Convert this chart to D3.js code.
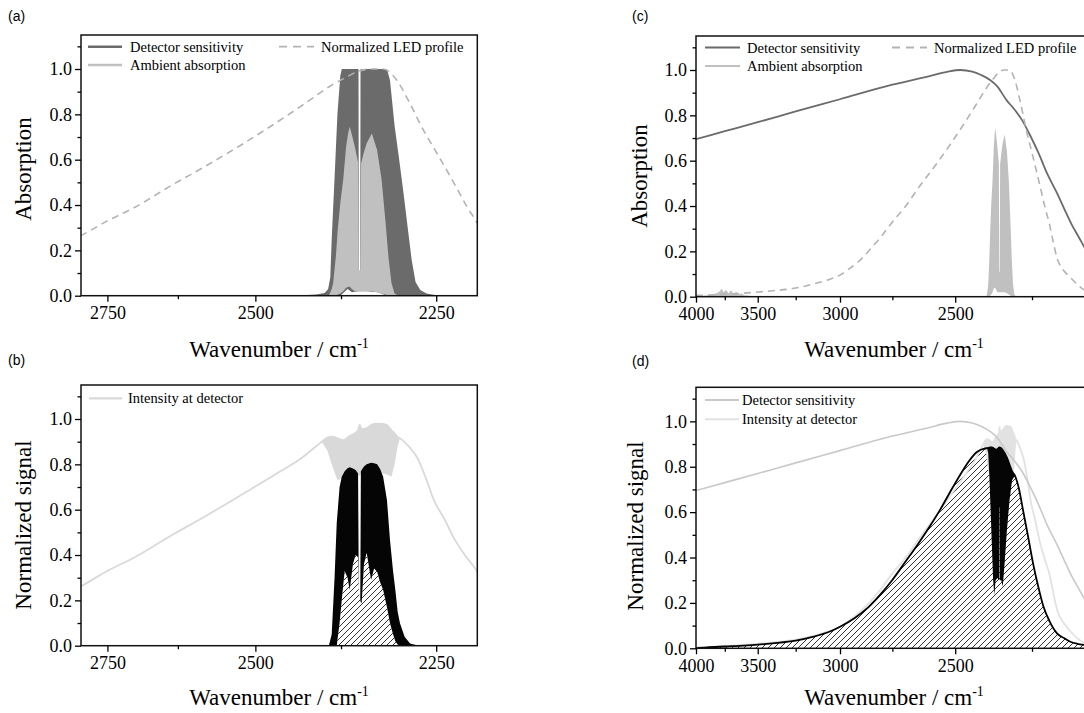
<!DOCTYPE html>
<html>
<head>
<meta charset="utf-8">
<script src="https://cdn.jsdelivr.net/npm/d3@7"></script>
<style>
  body { margin: 0; background: white; }
  text { font-family: "Liberation Serif", "Times New Roman", serif; }
  text.panel-label { font-family: "Liberation Sans", Arial, sans-serif; font-size: 14px; }
</style>
</head>
<body>
<svg id="chart" width="1084" height="713"></svg>
<script>
// values: [wavenumber, value] or [wavenumber, lower, upper]

const ledProfile = [
  [4000, 0.005], [3850, 0.008], [3700, 0.012], [3550, 0.018], [3400, 0.026], [3250, 0.038],
  [3150, 0.055], [3050, 0.078], [3000, 0.095], [2950, 0.125], [2900, 0.16], [2850, 0.21],
  [2800, 0.265], [2750, 0.33], [2700, 0.39], [2635, 0.488], [2580, 0.57], [2522, 0.665],
  [2470, 0.76], [2430, 0.84], [2402, 0.9], [2390, 0.925], [2370, 0.96], [2351, 0.99],
  [2335, 1.0], [2318, 1.0], [2300, 0.95], [2285, 0.86], [2266, 0.73], [2251, 0.64],
  [2237, 0.554], [2224, 0.47], [2212, 0.39], [2200, 0.32], [2190, 0.245], [2179, 0.17],
  [2165, 0.125], [2143, 0.085], [2125, 0.055], [2107, 0.03], [2090, 0.02]
];

const detectorSensitivity = [
  [4000, 0.695], [3750, 0.73], [3500, 0.77], [3250, 0.817], [3000, 0.871], [2750, 0.935],
  [2600, 0.972], [2530, 0.992], [2482, 1.0], [2440, 0.993], [2410, 0.978], [2380, 0.956],
  [2358, 0.93], [2326, 0.865], [2306, 0.832], [2280, 0.78], [2255, 0.71], [2230, 0.63],
  [2207, 0.545], [2180, 0.46], [2160, 0.39], [2140, 0.32], [2120, 0.26], [2107, 0.22],
  [2090, 0.17]
];

// absorption in the CO2 band (dark band of panel a)
const cellAbsorption = [
  [2430, 0, 0.002], [2410, 0, 0.005], [2398, 0, 0.012], [2393, 0, 0.03], [2390, 0, 0.08],
  [2388, 0, 0.25], [2384, 0, 0.52], [2380, 0, 0.8], [2376, 0, 0.97], [2374, 0.005, 1.0],
  [2366, 0.03, 1.0], [2360, 0.015, 1.0], [2351, 0.02, 1.0], [2350.5, 0.02, 0.11],
  [2348.7, 0.02, 0.11], [2348.3, 0.02, 1.0], [2340, 0.02, 1.0], [2325, 0.015, 1.0],
  [2313, 0, 1.0], [2309, 0, 0.95], [2303, 0, 0.75], [2297, 0, 0.6], [2291.5, 0, 0.455],
  [2286, 0, 0.3], [2281, 0, 0.16], [2276, 0, 0.06], [2270, 0, 0.025], [2262, 0, 0.01],
  [2250, 0, 0.002]
];

const ambientAbsorption = [
  [2392, 0, 0], [2388, 0, 0.03], [2386, 0, 0.055], [2382, 0, 0.18], [2379.6, 0.005, 0.29],
  [2376, 0.01, 0.41], [2372, 0.02, 0.51], [2368, 0.035, 0.657], [2365, 0.04, 0.72],
  [2363, 0.04, 0.745], [2360, 0.03, 0.71], [2356, 0.02, 0.657], [2351.4, 0.02, 0.584],
  [2350.5, 0.02, 0.11], [2348.7, 0.02, 0.11], [2347.5, 0.02, 0.584], [2344, 0.02, 0.63],
  [2340, 0.02, 0.672], [2333, 0.02, 0.716], [2326, 0.015, 0.643], [2320, 0.01, 0.51],
  [2315, 0.005, 0.33], [2311, 0, 0.17], [2307, 0, 0.055], [2303, 0, 0.01], [2298, 0, 0]
];

const ambientWater = [
  [4000, 0, 0.012], [3970, 0, 0.006], [3930, 0, 0.004], [3880, 0, 0.008], [3840, 0, 0.012],
  [3800, 0, 0.02], [3775, 0, 0.035], [3760, 0, 0.02], [3740, 0, 0.03], [3720, 0, 0.015],
  [3700, 0, 0.028], [3680, 0, 0.012], [3660, 0, 0.022], [3640, 0, 0.01], [3620, 0, 0.015],
  [3600, 0, 0.006], [3560, 0, 0.004], [3500, 0, 0]
];

// intensity at detector outside the band, and inside the band as [lower, upper]
const intensityAtDetector = [
  [4000, 0.005], [3700, 0.012], [3400, 0.026], [3250, 0.038], [3100, 0.065], [3000, 0.095],
  [2900, 0.16], [2800, 0.262], [2750, 0.33], [2700, 0.39], [2635, 0.488], [2580, 0.57],
  [2522, 0.665], [2470, 0.755], [2430, 0.83], [2296, 0.915], [2285, 0.88], [2274, 0.83],
  [2263, 0.74], [2253, 0.643], [2240, 0.56], [2229, 0.48], [2215, 0.4], [2200, 0.326],
  [2190, 0.25], [2179, 0.17], [2160, 0.11], [2143, 0.075], [2125, 0.045], [2107, 0.025],
  [2090, 0.015]
];

const intensityBand = [
  [2402, 0.9, 0.9], [2394, 0.86, 0.918], [2388, 0.8, 0.922], [2380, 0.73, 0.915],
  [2372, 0.74, 0.907], [2363, 0.76, 0.925], [2356, 0.76, 0.937], [2351, 0.75, 0.955],
  [2349.4, 0.75, 0.975], [2347, 0.76, 0.955], [2340, 0.77, 0.96], [2333, 0.77, 0.975],
  [2326, 0.77, 0.98], [2318, 0.76, 0.978], [2313, 0.755, 0.973], [2307, 0.745, 0.95],
  [2303, 0.8, 0.937], [2299, 0.88, 0.92], [2296, 0.915, 0.915]
];

// detected signal in the band (black, panel b)
const signalBandB = [
  [2392, 0, 0], [2388, 0, 0.05], [2384, 0, 0.3], [2381, 0, 0.54], [2377, 0.1, 0.7],
  [2374, 0.2, 0.745], [2370, 0.33, 0.77], [2366, 0.3, 0.783], [2363, 0.246, 0.787],
  [2358.6, 0.36, 0.782], [2355, 0.4, 0.775], [2351.6, 0.39, 0.76], [2350.6, 0.24, 0.24],
  [2348.6, 0.2, 0.2], [2347.8, 0.19, 0.77], [2346.7, 0.19, 0.775], [2343.6, 0.36, 0.79],
  [2340, 0.41, 0.8], [2334, 0.29, 0.807], [2330, 0.34, 0.805], [2326, 0.326, 0.8],
  [2322, 0.28, 0.78], [2318, 0.246, 0.745], [2313, 0.17, 0.643], [2309, 0.099, 0.466],
  [2305, 0.05, 0.33], [2302, 0.02, 0.246], [2299, 0.005, 0.15], [2296, 0, 0.099],
  [2290, 0, 0.04], [2283, 0, 0.01], [2272, 0, 0]
];

// detected signal over the whole range (hatched, panel d)
const detectedSignal = [
  [4000, 0], [3900, 0.004], [3750, 0.008], [3600, 0.012], [3500, 0.016], [3400, 0.022],
  [3250, 0.034], [3150, 0.05], [3050, 0.075], [3000, 0.095], [2923, 0.135], [2860, 0.18],
  [2805, 0.235], [2751, 0.3], [2695, 0.38], [2642, 0.46], [2594, 0.54], [2556, 0.61],
  [2518, 0.69], [2482, 0.765], [2454, 0.82], [2424, 0.865], [2399, 0.88], [2390, 0.882],
  [2375, 0.885], [2360, 0.875], [2349, 0.885], [2340, 0.875], [2326, 0.84], [2318, 0.81],
  [2310, 0.78], [2300, 0.757], [2290, 0.71], [2275, 0.596], [2260, 0.48], [2245, 0.36],
  [2230, 0.26], [2217, 0.184], [2200, 0.12], [2179, 0.066], [2160, 0.045], [2143, 0.029],
  [2125, 0.02], [2107, 0.015], [2090, 0.012]
];

const signalBandD = [
  [2390, 0.882, 0.882], [2386, 0.86, 0.885], [2382, 0.75, 0.888], [2378, 0.6, 0.888],
  [2374, 0.45, 0.887], [2370, 0.3, 0.885], [2366, 0.235, 0.88], [2362, 0.3, 0.876],
  [2356, 0.31, 0.878], [2351, 0.3, 0.882], [2350.4, 0.3, 0.885], [2350, 0.62, 0.885],
  [2349, 0.62, 0.886], [2348.6, 0.3, 0.886], [2344, 0.3, 0.88], [2339, 0.272, 0.875],
  [2333, 0.38, 0.86], [2326, 0.52, 0.84], [2318, 0.65, 0.81], [2310, 0.74, 0.78],
  [2304, 0.755, 0.762], [2300, 0.757, 0.757]
];

// ticks
const yMajor = [0, 0.2, 0.4, 0.6, 0.8, 1.0];
const yMinor = [0.1, 0.3, 0.5, 0.7, 0.9, 1.1];
const xMajorBand = [2750, 2500, 2250];
const xMinorBand = [2625, 2375];
const xMajorWide = [4000, 3500, 3000, 2500];
const xMinorWide = [3750, 3250, 2750, 2250];

const serif = '"Liberation Serif", "Times New Roman", serif';

const svg = d3.select('#chart');
const defs = svg.append('defs');

defs.append('pattern')
    .attr('id', 'hatch')
    .attr('patternUnits', 'userSpaceOnUse')
    .attr('width', 6)
    .attr('height', 6)
  .append('path')
    .attr('d', 'M-1,1 l2,-2 M0,6 l6,-6 M5,7 l2,-2')
    .attr('stroke', 'black')
    .attr('stroke-width', 0.8);

function makePanel(opts) {
  // x is linear in wavelength, labelled in wavenumber
  const x = d3.scaleLinear()
      .domain([1e4 / opts.wn[0], 1e4 / opts.wn[1]])
      .range([opts.left, opts.right]);
  const y = d3.scaleLinear()
      .domain([0, 1.15])
      .range([opts.bottom, opts.top]);
  const wx = wn => x(1e4 / wn);

  const g = svg.append('g');

  defs.append('clipPath')
      .attr('id', 'clip-' + opts.id)
    .append('rect')
      .attr('x', opts.left)
      .attr('y', opts.top)
      .attr('width', opts.right - opts.left)
      .attr('height', opts.bottom - opts.top);

  const plot = g.append('g')
      .attr('clip-path', `url(#clip-${opts.id})`);

  // frame and axes
  g.append('rect')
      .attr('x', opts.left)
      .attr('y', opts.top)
      .attr('width', opts.right - opts.left)
      .attr('height', opts.bottom - opts.top)
      .attr('fill', 'none')
      .attr('stroke', '#111')
      .attr('stroke-width', 1.5);

  g.append('g')
      .attr('transform', `translate(0, ${opts.bottom})`)
      .call(d3.axisBottom(x)
        .tickValues(opts.xMajor.map(w => 1e4 / w))
        .tickFormat(d => Math.round(1e4 / d))
        .tickSize(6)
        .tickSizeOuter(0)
        .tickPadding(5))
      .call(a => a.select('.domain').remove())
      .attr('font-size', 18)
      .attr('font-family', serif);

  g.append('g')
      .attr('transform', `translate(0, ${opts.bottom})`)
      .call(d3.axisBottom(x)
        .tickValues(opts.xMinor.map(w => 1e4 / w))
        .tickFormat('')
        .tickSize(3.5)
        .tickSizeOuter(0))
      .call(a => a.select('.domain').remove());

  g.append('g')
      .attr('transform', `translate(${opts.left}, 0)`)
      .call(d3.axisLeft(y)
        .tickValues(yMajor)
        .tickFormat(d3.format('.1f'))
        .tickSize(6)
        .tickSizeOuter(0)
        .tickPadding(3))
      .call(a => a.select('.domain').remove())
      .attr('font-size', 18)
      .attr('font-family', serif);

  g.append('g')
      .attr('transform', `translate(${opts.left}, 0)`)
      .call(d3.axisLeft(y)
        .tickValues(yMinor)
        .tickFormat('')
        .tickSize(3.5)
        .tickSizeOuter(0))
      .call(a => a.select('.domain').remove());

  g.selectAll('.tick line').attr('stroke-width', 1.3);
  g.selectAll('.tick text').attr('font-family', serif);

  // titles
  const xt = g.append('text')
      .attr('x', opts.xTitleX)
      .attr('y', opts.bottom + opts.xTitleGap)
      .attr('text-anchor', 'middle')
      .attr('font-size', 23);
  xt.append('tspan').text('Wavenumber / cm');
  xt.append('tspan')
      .attr('font-size', 14)
      .attr('dy', -9)
      .text('-1');

  g.append('text')
      .attr('transform', `translate(${opts.yTitle[0]}, ${opts.yTitle[1]}) rotate(-90)`)
      .attr('text-anchor', 'middle')
      .attr('font-size', 23)
      .text(opts.yLabel);

  g.append('text')
      .attr('class', 'panel-label')
      .attr('x', opts.tag[0])
      .attr('y', opts.tag[1])
      .text(opts.tagText);

  const area = d3.area()
      .x(d => wx(d[0]))
      .y0(d => y(d[1]))
      .y1(d => y(d[2]));
  const line = d3.line()
      .x(d => wx(d[0]))
      .y(d => y(d[1]))
      .curve(d3.curveMonotoneX);

  return {
    band(data, fill) {
      plot.append('path')
          .datum(data)
          .attr('d', area)
          .attr('fill', fill);
    },
    fillUnder(data, fill, smooth) {
      const a = d3.area()
          .x(d => wx(d[0]))
          .y0(y(0))
          .y1(d => y(d[1]));
      if (smooth) a.curve(d3.curveMonotoneX);
      plot.append('path')
          .datum(data)
          .attr('d', a)
          .attr('fill', fill);
    },
    line(data, stroke, width, dash) {
      plot.append('path')
          .datum(data)
          .attr('d', line)
          .attr('fill', 'none')
          .attr('stroke', stroke)
          .attr('stroke-width', width)
          .attr('stroke-dasharray', dash || null);
    },
    legend(items) {
      items.forEach(it => {
        g.append('line')
            .attr('x1', it.x)
            .attr('x2', it.x + it.len)
            .attr('y1', it.y)
            .attr('y2', it.y)
            .attr('stroke', it.color)
            .attr('stroke-width', it.width)
            .attr('stroke-dasharray', it.dash || null);
        g.append('text')
            .attr('x', it.tx)
            .attr('y', it.y + 5)
            .attr('font-size', 14.5)
            .text(it.label);
      });
    }
  };
}

const dark = '#6b6b6b';
const ambientGray = '#c0c0c0';
const ledGray = '#b3b3b3';

// (a)
const pa = makePanel({
  id: 'a', wn: [2800, 2200], left: 81, right: 477.3, top: 35, bottom: 295.7,
  xMajor: xMajorBand, xMinor: xMinorBand, xTitleX: 279, xTitleGap: 61, yTitle: [31, 169],
  yLabel: 'Absorption', tag: [8, 21], tagText: '(a)'
});
pa.band(cellAbsorption, dark);
pa.band(ambientAbsorption, ambientGray);
pa.line(ledProfile, ledGray, 1.6, '7,5');
pa.legend([
  {x: 88, y: 46.7, len: 34, tx: 130, color: dark, width: 2.5, label: 'Detector sensitivity'},
  {x: 88, y: 65, len: 34, tx: 130, color: ambientGray, width: 2.5, label: 'Ambient absorption'},
  {x: 279, y: 46.7, len: 35, tx: 321, color: ledGray, width: 1.8, dash: '8,6', label: 'Normalized LED profile'}
]);

// (c)
const pc = makePanel({
  id: 'c', wn: [4000, 2087], left: 696, right: 1092, top: 36, bottom: 296.7,
  xMajor: xMajorWide, xMinor: xMinorWide, xTitleX: 894, xTitleGap: 60, yTitle: [647, 176],
  yLabel: 'Absorption', tag: [632, 21], tagText: '(c)'
});
pc.band(ambientWater, ambientGray);
pc.band(ambientAbsorption, ambientGray);
pc.line(detectorSensitivity, dark, 1.8);
pc.line(ledProfile, ledGray, 1.6, '7,5');
pc.legend([
  {x: 705, y: 47.5, len: 35, tx: 747, color: dark, width: 2.2, label: 'Detector sensitivity'},
  {x: 705, y: 66, len: 35, tx: 747, color: ambientGray, width: 2.2, label: 'Ambient absorption'},
  {x: 892, y: 47.5, len: 35, tx: 934, color: ledGray, width: 1.8, dash: '8,6', label: 'Normalized LED profile'}
]);

// intensity curve: outside values plus upper edge of the band
const intensityLine = intensityAtDetector
  .concat(intensityBand.map(d => [d[0], d[2]]))
  .sort((a, b) => b[0] - a[0]);

// (b)
const intensityGray = '#d9d9d9';
const pb = makePanel({
  id: 'b', wn: [2800, 2200], left: 81, right: 477.3, top: 385, bottom: 645.7,
  xMajor: xMajorBand, xMinor: xMinorBand, xTitleX: 279, xTitleGap: 59, yTitle: [31, 525],
  yLabel: 'Normalized signal', tag: [8, 365], tagText: '(b)'
});
pb.band(intensityBand, intensityGray);
pb.line(intensityLine, intensityGray, 1.8);
pb.fillUnder(signalBandB.map(d => [d[0], d[1]]), 'url(#hatch)', false);
pb.band(signalBandB, '#050505');
pb.legend([
  {x: 89, y: 398.3, len: 33, tx: 128, color: intensityGray, width: 2.2, label: 'Intensity at detector'}
]);

// (d)
const detLight = '#c9c9c9';
const intLight = '#e2e2e2';
const pd = makePanel({
  id: 'd', wn: [4000, 2087], left: 696, right: 1092, top: 387.3, bottom: 648.3,
  xMajor: xMajorWide, xMinor: xMinorWide, xTitleX: 894, xTitleGap: 57, yTitle: [643, 526],
  yLabel: 'Normalized signal', tag: [632, 366], tagText: '(d)'
});
pd.fillUnder(detectedSignal, 'url(#hatch)', true);
pd.band(intensityBand, intLight);
pd.line(intensityLine, intLight, 1.8);
pd.line(detectorSensitivity, detLight, 1.6);
pd.line(detectedSignal, '#000', 1.8);
pd.band(signalBandD, '#050505');
pd.legend([
  {x: 705, y: 400, len: 34, tx: 742, color: detLight, width: 2, label: 'Detector sensitivity'},
  {x: 705, y: 419.3, len: 34, tx: 742, color: intLight, width: 2, label: 'Intensity at detector'}
]);
</script>
</body>
</html>
